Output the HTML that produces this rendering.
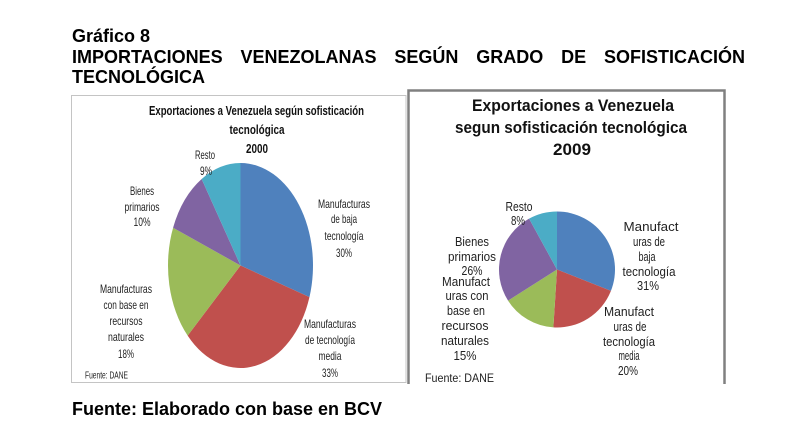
<!DOCTYPE html>
<html>
<head>
<meta charset="utf-8">
<style>
html,body{margin:0;padding:0;background:#fff;}
body{width:787px;height:432px;position:relative;overflow:hidden;font-family:"Liberation Sans",Arial,sans-serif;}
.h{position:absolute;left:72px;font-weight:bold;font-size:18px;line-height:18px;color:#000;white-space:nowrap;}
.just{position:absolute;left:72px;width:673px;font-weight:bold;font-size:18px;line-height:18px;color:#000;text-align:justify;text-align-last:justify;}
svg{position:absolute;left:0;top:0;}
</style>
</head>
<body>
<div class="h" style="top:27px;">Gráfico 8</div>
<div class="just" style="top:48px;">IMPORTACIONES VENEZOLANAS SEGÚN GRADO DE SOFISTICACIÓN</div>
<div class="h" style="top:68px;">TECNOLÓGICA</div>
<div class="h" style="top:400px;">Fuente: Elaborado con base en BCV</div>

<svg width="787" height="432" viewBox="0 0 787 432" xmlns="http://www.w3.org/2000/svg">
  <!-- left box -->
  <rect x="71.5" y="95.5" width="334.5" height="287" fill="none" stroke="#c4c4c4" stroke-width="1"/>
  <!-- right box (no bottom border) -->
  <path d="M408.5 384 L408.5 90.5 L724.5 90.5 L724.5 384" fill="none" stroke="#808080" stroke-width="2.5"/>

  <!-- LEFT PIE (elliptical) -->
  <g stroke="none">
    <path d="M240.5 265.5 L240.5 163 A72.5 102.5 0 0 1 309.45 297.17 Z" fill="#4F81BD"/>
    <path d="M240.5 265.5 L309.45 297.17 A72.5 102.5 0 0 1 187.65 335.67 Z" fill="#C0504D"/>
    <path d="M240.5 265.5 L187.65 335.67 A72.5 102.5 0 0 1 173.09 227.77 Z" fill="#9BBB59"/>
    <path d="M240.5 265.5 L173.09 227.77 A72.5 102.5 0 0 1 201.65 178.96 Z" fill="#8064A2"/>
    <path d="M240.5 265.5 L201.65 178.96 A72.5 102.5 0 0 1 240.5 163 Z" fill="#4BACC6"/>
  </g>

  <!-- left title -->
  <g font-family="Liberation Sans, Arial, sans-serif" font-weight="bold" font-size="13" fill="#111" text-anchor="middle">
    <text x="256.5" y="115" textLength="215" lengthAdjust="spacingAndGlyphs">Exportaciones a Venezuela según sofisticación</text>
    <text x="257" y="134" textLength="55" lengthAdjust="spacingAndGlyphs">tecnológica</text>
    <text x="257" y="153" textLength="22" lengthAdjust="spacingAndGlyphs">2000</text>
  </g>

  <!-- left labels -->
  <g font-family="Liberation Sans, Arial, sans-serif" font-size="12" fill="#222" text-anchor="middle">
    <text x="205" y="159" textLength="20" lengthAdjust="spacingAndGlyphs">Resto</text>
    <text x="206" y="175" textLength="12" lengthAdjust="spacingAndGlyphs">9%</text>

    <text x="142" y="195" textLength="24" lengthAdjust="spacingAndGlyphs">Bienes</text>
    <text x="142" y="211" textLength="35" lengthAdjust="spacingAndGlyphs">primarios</text>
    <text x="142" y="226" textLength="17" lengthAdjust="spacingAndGlyphs">10%</text>

    <text x="344" y="208" textLength="52" lengthAdjust="spacingAndGlyphs">Manufacturas</text>
    <text x="344" y="223" textLength="26" lengthAdjust="spacingAndGlyphs">de baja</text>
    <text x="344" y="240" textLength="39" lengthAdjust="spacingAndGlyphs">tecnología</text>
    <text x="344" y="257" textLength="16" lengthAdjust="spacingAndGlyphs">30%</text>

    <text x="126" y="293" textLength="52" lengthAdjust="spacingAndGlyphs">Manufacturas</text>
    <text x="126" y="309" textLength="45" lengthAdjust="spacingAndGlyphs">con base en</text>
    <text x="126" y="325" textLength="33" lengthAdjust="spacingAndGlyphs">recursos</text>
    <text x="126" y="341" textLength="36" lengthAdjust="spacingAndGlyphs">naturales</text>
    <text x="126" y="358" textLength="16" lengthAdjust="spacingAndGlyphs">18%</text>

    <text x="330" y="328" textLength="52" lengthAdjust="spacingAndGlyphs">Manufacturas</text>
    <text x="330" y="344" textLength="50" lengthAdjust="spacingAndGlyphs">de tecnología</text>
    <text x="330" y="360" textLength="23" lengthAdjust="spacingAndGlyphs">media</text>
    <text x="330" y="377" textLength="16" lengthAdjust="spacingAndGlyphs">33%</text>
  </g>
  <text x="85" y="378.5" font-family="Liberation Sans, Arial, sans-serif" font-size="10" fill="#222" textLength="43" lengthAdjust="spacingAndGlyphs">Fuente: DANE</text>

  <!-- RIGHT PIE -->
  <g stroke="none">
    <path d="M557 269.5 L557 211.5 A58 58 0 0 1 610.93 290.85 Z" fill="#4F81BD"/>
    <path d="M557 269.5 L610.93 290.85 A58 58 0 0 1 553.36 327.39 Z" fill="#C0504D"/>
    <path d="M557 269.5 L553.36 327.39 A58 58 0 0 1 508.03 300.58 Z" fill="#9BBB59"/>
    <path d="M557 269.5 L508.03 300.58 A58 58 0 0 1 529.06 218.67 Z" fill="#8064A2"/>
    <path d="M557 269.5 L529.06 218.67 A58 58 0 0 1 557 211.5 Z" fill="#4BACC6"/>
  </g>

  <!-- right title -->
  <g font-family="Liberation Sans, Arial, sans-serif" font-weight="bold" font-size="17" fill="#111" text-anchor="middle">
    <text x="573" y="111" textLength="202" lengthAdjust="spacingAndGlyphs">Exportaciones a Venezuela</text>
    <text x="571" y="133" textLength="232" lengthAdjust="spacingAndGlyphs">segun sofisticación tecnológica</text>
    <text x="572" y="155" textLength="38" lengthAdjust="spacingAndGlyphs">2009</text>
  </g>

  <!-- right labels -->
  <g font-family="Liberation Sans, Arial, sans-serif" font-size="12.5" fill="#222" text-anchor="middle">
    <text x="519" y="211" textLength="27" lengthAdjust="spacingAndGlyphs">Resto</text>
    <text x="518" y="225" textLength="14" lengthAdjust="spacingAndGlyphs">8%</text>

    <text x="472" y="246" textLength="34" lengthAdjust="spacingAndGlyphs">Bienes</text>
    <text x="472" y="261" textLength="48" lengthAdjust="spacingAndGlyphs">primarios</text>
    <text x="472" y="275" textLength="21" lengthAdjust="spacingAndGlyphs">26%</text>

    <text x="466" y="286" textLength="48" lengthAdjust="spacingAndGlyphs">Manufact</text>
    <text x="467" y="300" textLength="43" lengthAdjust="spacingAndGlyphs">uras  con</text>
    <text x="466" y="315" textLength="38" lengthAdjust="spacingAndGlyphs">base en</text>
    <text x="465" y="330" textLength="47" lengthAdjust="spacingAndGlyphs">recursos</text>
    <text x="465" y="345" textLength="48" lengthAdjust="spacingAndGlyphs">naturales</text>
    <text x="465" y="360" textLength="23" lengthAdjust="spacingAndGlyphs">15%</text>

    <text x="651" y="231" textLength="55" lengthAdjust="spacingAndGlyphs">Manufact</text>
    <text x="649" y="246" textLength="32" lengthAdjust="spacingAndGlyphs">uras de</text>
    <text x="647" y="261" textLength="17" lengthAdjust="spacingAndGlyphs">baja</text>
    <text x="649" y="276" textLength="53" lengthAdjust="spacingAndGlyphs">tecnología</text>
    <text x="648" y="290" textLength="22" lengthAdjust="spacingAndGlyphs">31%</text>

    <text x="629" y="316" textLength="50" lengthAdjust="spacingAndGlyphs">Manufact</text>
    <text x="630" y="331" textLength="33" lengthAdjust="spacingAndGlyphs">uras de</text>
    <text x="629" y="346" textLength="52" lengthAdjust="spacingAndGlyphs">tecnología</text>
    <text x="629" y="360" textLength="21" lengthAdjust="spacingAndGlyphs">media</text>
    <text x="628" y="375" textLength="20" lengthAdjust="spacingAndGlyphs">20%</text>
  </g>
  <text x="425" y="382" font-family="Liberation Sans, Arial, sans-serif" font-size="12" fill="#222" textLength="69" lengthAdjust="spacingAndGlyphs">Fuente: DANE</text>
</svg>
</body>
</html>
